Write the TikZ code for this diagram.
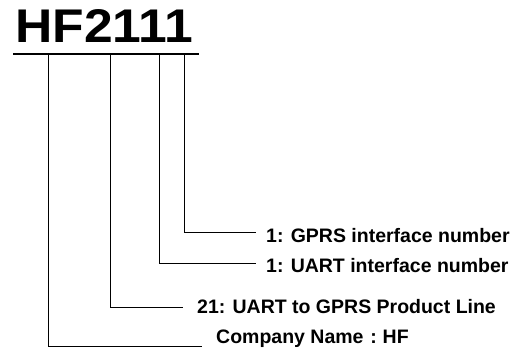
\documentclass[tikz,border=0pt]{standalone}
\usepackage{fontspec}
\setmainfont{Liberation Sans}
\usetikzlibrary{calc}
\begin{document}
\begin{tikzpicture}[x=1pt,y=-1pt,
  lbl/.style={anchor=base west,inner sep=0pt,font=\fontsize{19.5}{20}\selectfont\bfseries},
  conn/.style={draw=black,line width=1pt}]
\useasboundingbox (0,0) rectangle (512,356);
\node[anchor=south west,inner sep=0pt] (title) at (15,43)
  {\resizebox{178pt}{33pt}{\bfseries HF2111}};
\draw[line width=2pt] (13,54) -- (199,54);
\coordinate (c1) at (184,54);
\coordinate (c2) at (159,54);
\coordinate (c3) at (110.5,54);
\coordinate (c4) at (48.5,54);
\node[lbl] (l1) at (266,242) {1: GPRS interface number};
\node[lbl] (l2) at (266,272) {1: UART interface number};
\node[lbl] (l3) at (197,313) {21: UART to GPRS Product Line};
\node[lbl] (l4) at (216,343) {Company Name\kern.35em:\kern.3em HF};
\draw[conn] (c1) |- ($(l1.base west)+(-10,-10)$);
\draw[conn] (c2) |- ($(l2.base west)+(-10,-9)$);
\draw[conn] (c3) |- ($(l3.base west)+(-14,-6)$);
\draw[conn] (c4) |- ($(l4.base west)+(-14,3)$);
\end{tikzpicture}
\end{document}
